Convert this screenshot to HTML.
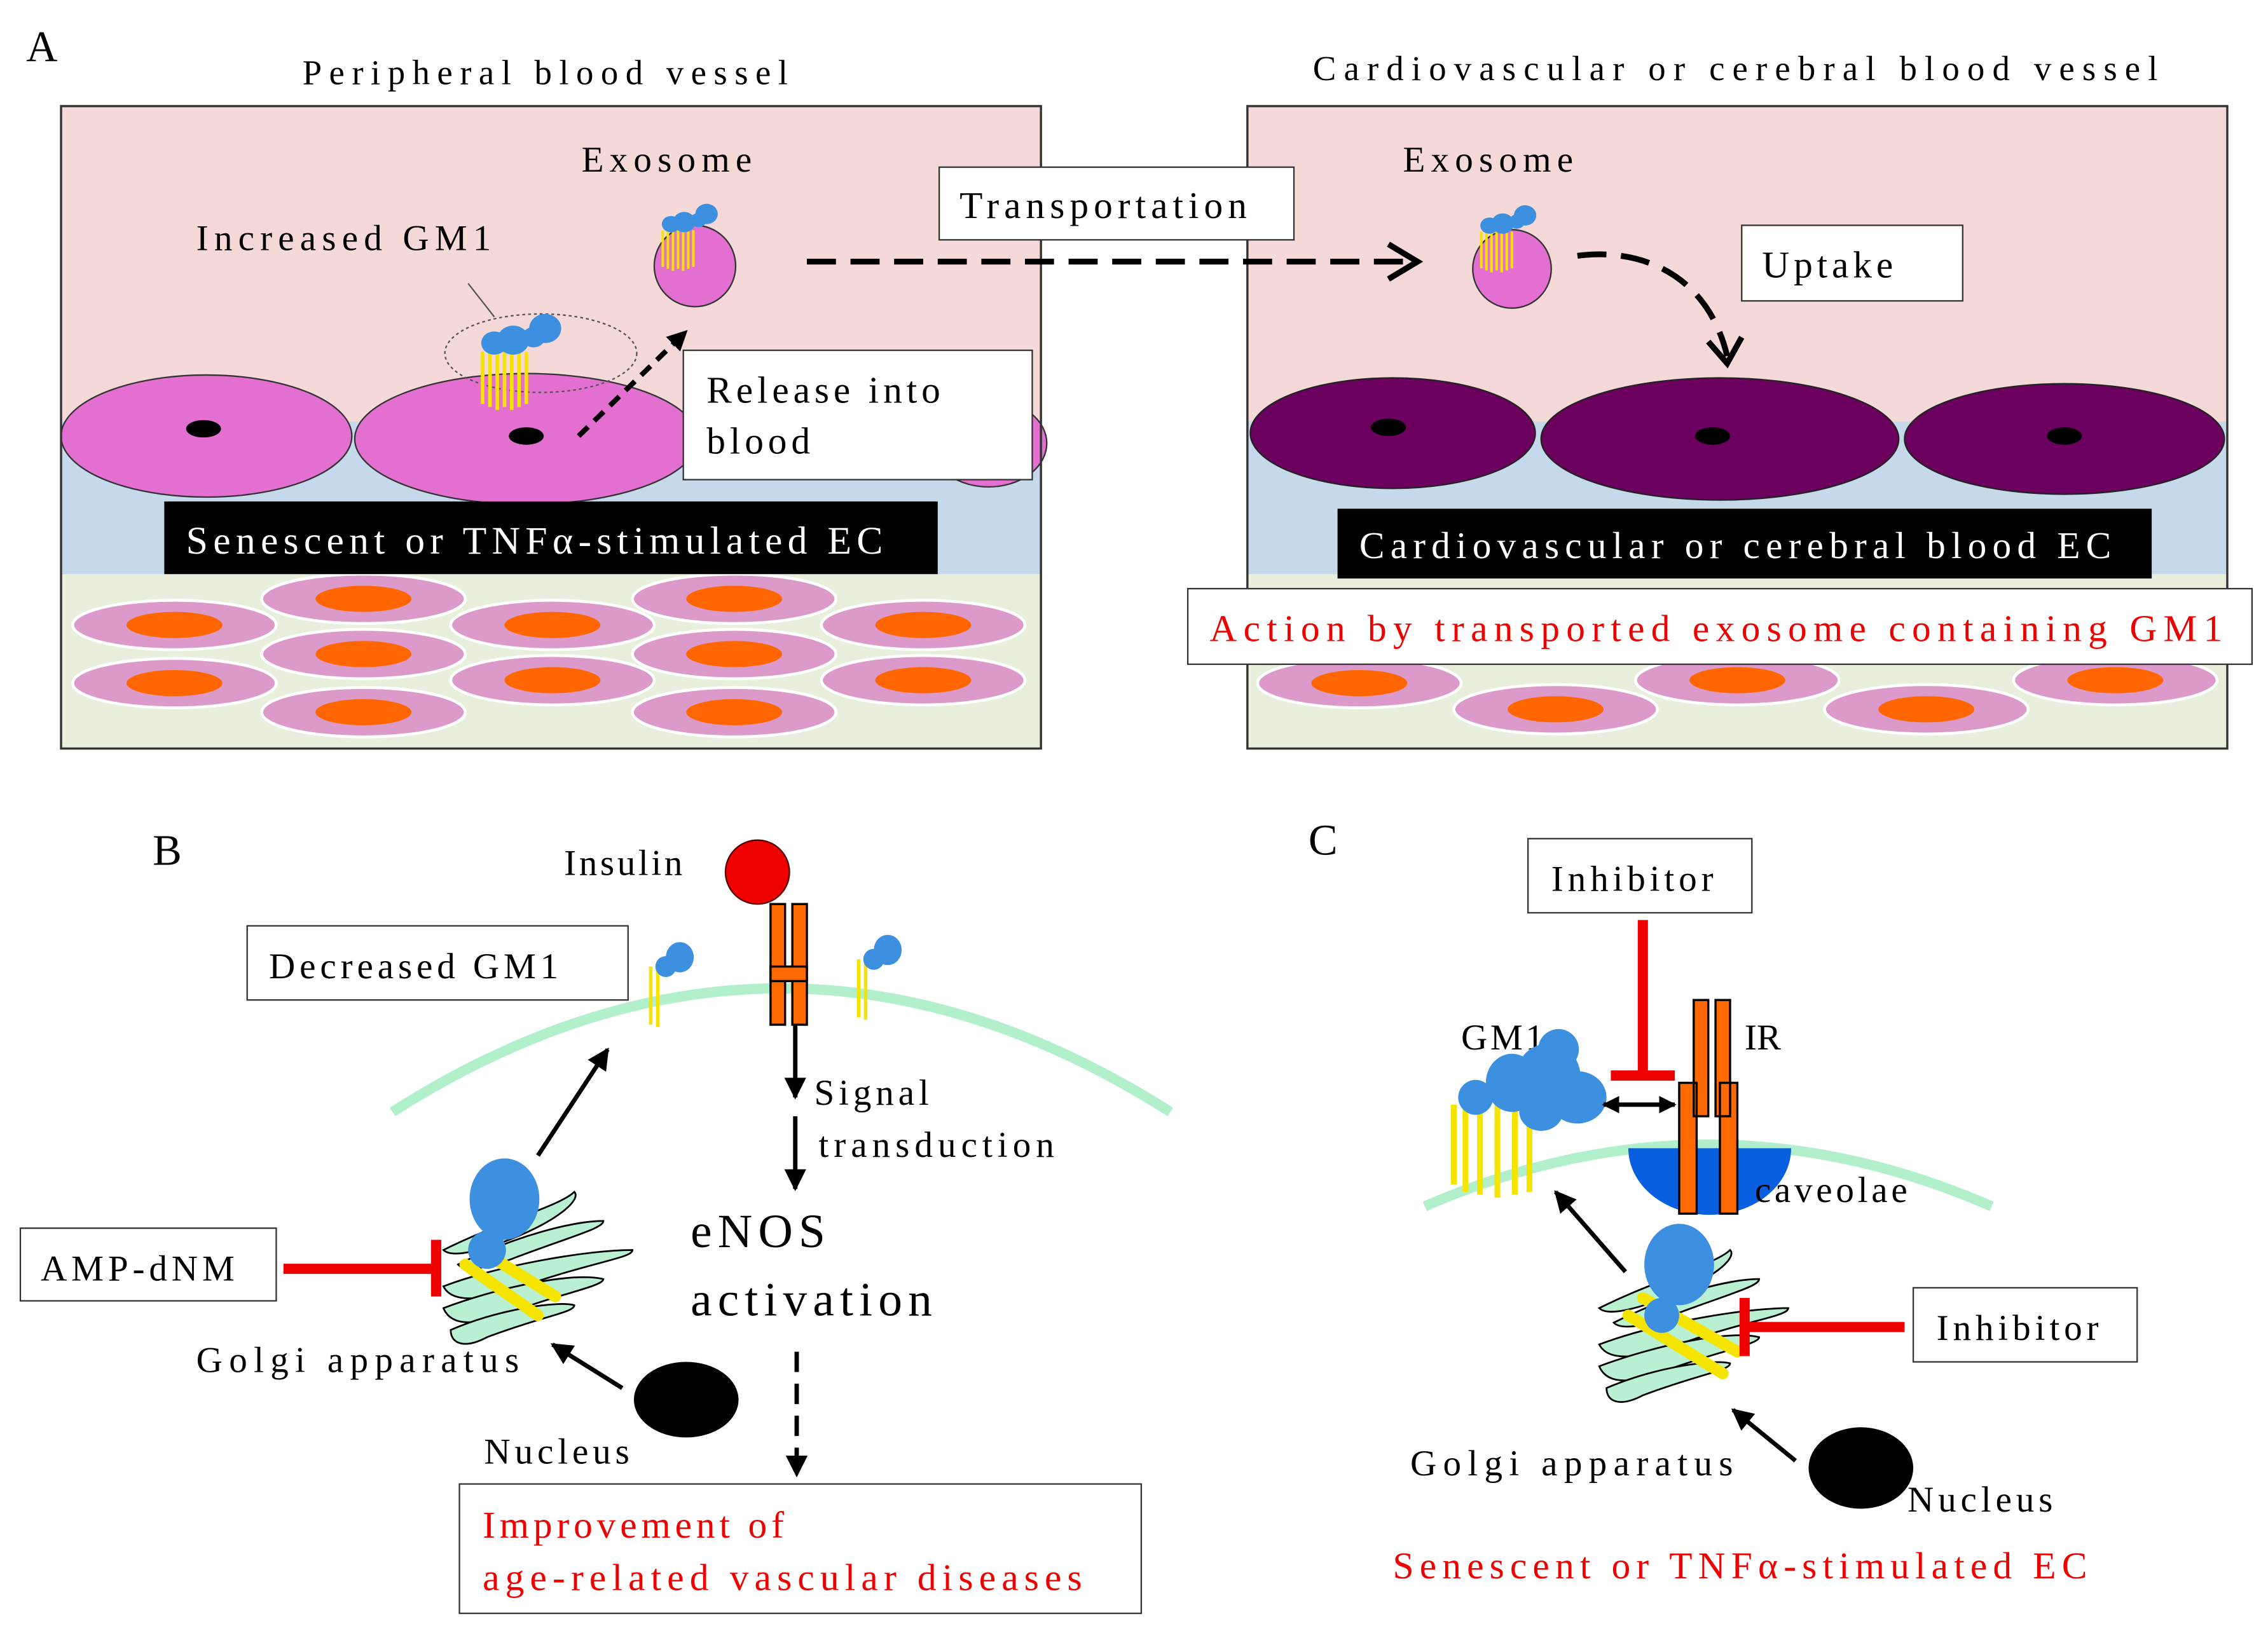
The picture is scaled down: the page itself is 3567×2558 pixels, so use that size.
<!DOCTYPE html>
<html><head><meta charset="utf-8"><style>
html,body{margin:0;padding:0;background:#fff;}
svg{display:block;}
text{font-family:"Liberation Serif","Noto Serif CJK SC",serif;fill:#000;}
</style></head><body>
<svg width="3567" height="2558" viewBox="0 0 1560 1118.7" xmlns="http://www.w3.org/2000/svg">
<defs>
<marker id="ah" viewBox="0 0 10 10" refX="9" refY="5" markerWidth="5" markerHeight="5" orient="auto"><path d="M0,0L10,5L0,10z" fill="#000"/></marker>
<marker id="ahb" viewBox="0 0 10 10" refX="9" refY="5" markerWidth="4" markerHeight="5" orient="auto"><path d="M0,0L10,5L0,10z" fill="#000"/></marker>
<marker id="ahs" viewBox="0 0 10 10" refX="9" refY="5" markerWidth="4" markerHeight="4" orient="auto-start-reverse"><path d="M0,0L10,5L0,10z" fill="#000"/></marker>
<g id="gm">
 <path d="M-8,0 V40 M-3,0 V42 M2,0 V40 M7,0 V42 M12,0 V40 M-13,2 V38 M17,2 V38" stroke="#f5e400" stroke-width="2.5"/>
 <ellipse cx="-5" cy="-4" rx="9" ry="8" fill="#3d8fe0"/><ellipse cx="8" cy="-6" rx="11" ry="10" fill="#3d8fe0"/>
 <ellipse cx="22" cy="-8" rx="8" ry="7" fill="#3d8fe0"/><ellipse cx="30" cy="-14" rx="11" ry="10" fill="#3d8fe0"/>
</g>
<g id="cell"><ellipse rx="70" ry="17" fill="#dc9acb" stroke="#fff" stroke-width="2"/><ellipse rx="33" ry="9" fill="#ff6600"/></g>
<g id="golgi" fill="#b9f0d2" stroke="#000" stroke-width="1.2">
 <path d="M-40,-10 C0,-30 40,-40 50,-50 C55,-45 40,-30 0,-15 C-20,-8 -35,-5 -40,-10z"/>
 <path d="M-30,0 C10,-20 50,-30 70,-30 C70,-25 50,-20 10,-5 C-10,3 -25,5 -30,0z"/>
 <path d="M-40,15 C0,0 60,-10 90,-10 C90,-4 60,-2 0,20 C-20,25 -35,25 -40,15z"/>
 <path d="M-40,30 C0,15 50,5 70,10 C70,15 40,20 0,35 C-20,42 -35,42 -40,30z"/>
 <path d="M-35,45 C0,30 40,25 50,28 C50,33 30,35 -10,50 C-25,58 -35,55 -35,45z"/>
</g>
</defs>

<!-- Panel A -->
<text x="18" y="42" font-size="30">A</text>
<text x="208" y="58" font-size="24" letter-spacing="5">Peripheral blood vessel</text>
<text x="903" y="55" font-size="24" letter-spacing="5.3">Cardiovascular or cerebral blood vessel</text>

<rect x="42" y="73" width="674" height="442" fill="#f5d9d9"/>
<rect x="42" y="290" width="674" height="105" fill="#c5d9ea"/>
<rect x="42" y="395" width="674" height="120" fill="#e8efdc"/>
<use href="#cell" x="120" y="430"/><use href="#cell" x="250" y="412"/><use href="#cell" x="380" y="430"/><use href="#cell" x="505" y="412"/><use href="#cell" x="635" y="430"/>
<use href="#cell" x="120" y="470"/><use href="#cell" x="250" y="450"/><use href="#cell" x="380" y="468"/><use href="#cell" x="505" y="450"/><use href="#cell" x="635" y="468"/>
<use href="#cell" x="250" y="490"/><use href="#cell" x="505" y="490"/>
<ellipse cx="680" cy="305" rx="40" ry="30" fill="#e36fd0" stroke="#333"/>
<ellipse cx="142" cy="300" rx="100" ry="42" fill="#e36fd0" stroke="#333"/>
<ellipse cx="362" cy="302" rx="118" ry="45" fill="#e36fd0" stroke="#333"/>
<ellipse cx="140" cy="295" rx="12" ry="6" fill="#000"/><ellipse cx="362" cy="300" rx="12" ry="6" fill="#000"/>
<rect x="113" y="345" width="532" height="50" fill="#000"/>
<text x="128" y="381" font-size="27" letter-spacing="3.6" style="fill:#fff">Senescent or TNFα-stimulated EC</text>
<rect x="42" y="73" width="674" height="442" fill="none" stroke="#333" stroke-width="1.5"/>

<ellipse cx="372" cy="243" rx="66" ry="27" fill="none" stroke="#555" stroke-dasharray="2,2"/>
<line x1="340" y1="218" x2="322" y2="195" stroke="#555"/>
<use href="#gm" x="345" y="240"/>
<text x="135" y="172" font-size="25" letter-spacing="4">Increased GM1</text>
<text x="400" y="118" font-size="25" letter-spacing="4">Exosome</text>
<circle cx="478" cy="183" r="28" fill="#e36fd0" stroke="#333"/>
<use href="#gm" transform="translate(465,157) scale(0.7)"/>
<line x1="398" y1="300" x2="472" y2="228" stroke="#000" stroke-width="3.5" stroke-dasharray="9,6" marker-end="url(#ahb)"/>
<rect x="470" y="241" width="240" height="89" fill="#fff" stroke="#333"/>
<text x="486" y="277" font-size="26" letter-spacing="3">Release into</text>
<text x="486" y="312" font-size="26" letter-spacing="3">blood</text>

<rect x="858" y="73" width="674" height="442" fill="#f5d9d9"/>
<rect x="858" y="290" width="674" height="105" fill="#c5d9ea"/>
<rect x="858" y="395" width="674" height="120" fill="#e8efdc"/>
<use href="#cell" x="935" y="470"/><use href="#cell" x="1070" y="488"/><use href="#cell" x="1195" y="468"/><use href="#cell" x="1325" y="488"/><use href="#cell" x="1455" y="468"/>
<ellipse cx="958" cy="298" rx="98" ry="38" fill="#6b005e" stroke="#222"/>
<ellipse cx="1183" cy="302" rx="123" ry="42" fill="#6b005e" stroke="#222"/>
<ellipse cx="1420" cy="302" rx="110" ry="38" fill="#6b005e" stroke="#222"/>
<ellipse cx="955" cy="294" rx="12" ry="6" fill="#000"/><ellipse cx="1178" cy="300" rx="12" ry="6" fill="#000"/><ellipse cx="1420" cy="300" rx="12" ry="6" fill="#000"/>
<rect x="920" y="350" width="560" height="48" fill="#000"/>
<text x="935" y="384" font-size="26" letter-spacing="4">Cardiovascular or cerebral blood EC</text>
<text x="935" y="384" font-size="26" letter-spacing="4" style="fill:#fff">Cardiovascular or cerebral blood EC</text>
<rect x="858" y="73" width="674" height="442" fill="none" stroke="#333" stroke-width="1.5"/>
<rect x="817" y="405" width="732" height="52" fill="#fff" stroke="#333"/>
<text x="832" y="441" font-size="26" letter-spacing="4.5" style="fill:#e00">Action by transported exosome containing GM1</text>

<text x="965" y="118" font-size="25" letter-spacing="4">Exosome</text>
<circle cx="1040" cy="185" r="27" fill="#e36fd0" stroke="#333"/>
<use href="#gm" transform="translate(1028,158) scale(0.7)"/>
<path d="M1085,176 C1130,170 1175,190 1188,245" fill="none" stroke="#000" stroke-width="4" stroke-dasharray="20,10"/>
<path d="M1175,235 L1188,250 L1198,232" fill="none" stroke="#000" stroke-width="4"/>
<rect x="1198" y="155" width="152" height="52" fill="#fff" stroke="#333"/>
<text x="1212" y="191" font-size="26" letter-spacing="3">Uptake</text>

<line x1="555" y1="180" x2="975" y2="180" stroke="#000" stroke-width="4" stroke-dasharray="20,10"/>
<path d="M955,168 L975,180 L955,192" fill="none" stroke="#000" stroke-width="4"/>
<rect x="646" y="115" width="244" height="50" fill="#fff" stroke="#333"/>
<text x="660" y="150" font-size="26" letter-spacing="3.5">Transportation</text>

<!-- Panel B -->
<text x="105" y="595" font-size="30">B</text>
<path d="M270,765 Q537,595 805,765" fill="none" stroke="#b2f0cc" stroke-width="7"/>
<text x="388" y="602" font-size="25" letter-spacing="2">Insulin</text>
<circle cx="521" cy="600" r="22" fill="#e00" stroke="#500"/>
<path d="M530,622 h10 v83 h-10z M545,622 h10 v83 h-10z" fill="#ff6a00" stroke="#000" stroke-width="1.5"/>
<rect x="530" y="665" width="25" height="10" fill="#ff6a00" stroke="#000" stroke-width="1.5"/>
<g transform="translate(450,665) scale(0.8)"><path d="M-3,0 V50 M3,0 V52" stroke="#f5e400" stroke-width="3"/><ellipse cx="10" cy="0" rx="9" ry="9" fill="#3d8fe0"/><ellipse cx="22" cy="-8" rx="12" ry="13" fill="#3d8fe0"/></g>
<g transform="translate(593,660) scale(0.8)"><path d="M-3,0 V50 M3,0 V52" stroke="#f5e400" stroke-width="3"/><ellipse cx="10" cy="0" rx="9" ry="9" fill="#3d8fe0"/><ellipse cx="22" cy="-8" rx="12" ry="13" fill="#3d8fe0"/></g>
<rect x="170" y="637" width="262" height="51" fill="#fff" stroke="#333"/>
<text x="185" y="673" font-size="25" letter-spacing="3">Decreased GM1</text>
<line x1="547" y1="705" x2="547" y2="755" stroke="#000" stroke-width="3" marker-end="url(#ah)"/>
<line x1="547" y1="768" x2="547" y2="818" stroke="#000" stroke-width="3" marker-end="url(#ah)"/>
<text x="560" y="760" font-size="25" letter-spacing="3">Signal</text>
<text x="563" y="796" font-size="25" letter-spacing="3.5">transduction</text>
<text x="475" y="858" font-size="33" letter-spacing="4">eNOS</text>
<text x="475" y="905" font-size="33" letter-spacing="4">activation</text>
<line x1="548" y1="930" x2="548" y2="1015" stroke="#000" stroke-width="3" stroke-dasharray="14,8" marker-end="url(#ah)"/>
<rect x="316" y="1021" width="469" height="89" fill="#fff" stroke="#333"/>
<text x="332" y="1058" font-size="26" letter-spacing="3" style="fill:#e00">Improvement of</text>
<text x="332" y="1094" font-size="26" letter-spacing="4" style="fill:#e00">age-related vascular diseases</text>

<use href="#golgi" transform="translate(345,870)"/>
<path d="M320,870 L370,905 M330,860 L382,892" stroke="#f5e400" stroke-width="8" stroke-linecap="round"/>
<ellipse cx="347" cy="825" rx="24" ry="28" fill="#3d8fe0"/><ellipse cx="335" cy="860" rx="13" ry="13" fill="#3d8fe0"/>
<line x1="370" y1="795" x2="418" y2="722" stroke="#000" stroke-width="3" marker-end="url(#ah)"/>
<rect x="14" y="845" width="176" height="50" fill="#fff" stroke="#333"/>
<text x="28" y="881" font-size="25" letter-spacing="3">AMP-dNM</text>
<line x1="195" y1="873" x2="300" y2="873" stroke="#e00" stroke-width="7"/>
<line x1="300" y1="853" x2="300" y2="892" stroke="#e00" stroke-width="7"/>
<text x="135" y="944" font-size="25" letter-spacing="4.5">Golgi apparatus</text>
<line x1="428" y1="955" x2="380" y2="925" stroke="#000" stroke-width="3" marker-end="url(#ah)"/>
<ellipse cx="472" cy="963" rx="36" ry="26" fill="#000"/>
<text x="333" y="1007" font-size="25" letter-spacing="3">Nucleus</text>

<!-- Panel C -->
<text x="900" y="588" font-size="30">C</text>
<path d="M980,830 Q1175,745 1370,830" fill="none" stroke="#b2f0cc" stroke-width="7"/>
<path d="M1120,790 A55,45 0 0 0 1232,790 Z" fill="#0a5fe0"/>
<rect x="1051" y="577" width="154" height="51" fill="#fff" stroke="#333"/>
<text x="1067" y="613" font-size="25" letter-spacing="3">Inhibitor</text>
<line x1="1130" y1="633" x2="1130" y2="740" stroke="#e00" stroke-width="7"/>
<line x1="1108" y1="740" x2="1152" y2="740" stroke="#e00" stroke-width="7"/>
<path d="M1155,745 h12 v90 h-12z M1183,745 h12 v90 h-12z M1165,688 h10 v80 h-10z M1180,688 h10 v80 h-10z" fill="#ff6a00" stroke="#000" stroke-width="1.5"/>
<text x="1005" y="722" font-size="25" letter-spacing="2">GM1</text>
<text x="1200" y="722" font-size="25">IR</text>
<path d="M1000,760 V815 M1008,755 V820 M1018,752 V822 M1030,755 V824 M1042,752 V822 M1052,755 V820" stroke="#f5e400" stroke-width="4"/>
<g fill="#3d8fe0"><ellipse cx="1015" cy="755" rx="12" ry="12"/><ellipse cx="1040" cy="745" rx="18" ry="20"/><ellipse cx="1065" cy="740" rx="22" ry="22"/><ellipse cx="1085" cy="755" rx="20" ry="18"/><ellipse cx="1060" cy="765" rx="15" ry="13"/><ellipse cx="1072" cy="722" rx="14" ry="14"/></g>
<line x1="1103" y1="760" x2="1152" y2="760" stroke="#000" stroke-width="3" marker-start="url(#ahs)" marker-end="url(#ahs)"/>
<text x="1207" y="827" font-size="25" letter-spacing="2.5">caveolae</text>
<use href="#golgi" transform="translate(1140,910)"/>
<path d="M1120,905 L1185,945 M1130,893 L1195,930" stroke="#f5e400" stroke-width="8" stroke-linecap="round"/>
<ellipse cx="1155" cy="870" rx="24" ry="28" fill="#3d8fe0"/><ellipse cx="1143" cy="905" rx="12" ry="12" fill="#3d8fe0"/>
<line x1="1118" y1="875" x2="1070" y2="820" stroke="#000" stroke-width="3" marker-end="url(#ah)"/>
<rect x="1316" y="886" width="154" height="51" fill="#fff" stroke="#333"/>
<text x="1332" y="922" font-size="25" letter-spacing="3">Inhibitor</text>
<line x1="1200" y1="913" x2="1310" y2="913" stroke="#e00" stroke-width="7"/>
<line x1="1200" y1="893" x2="1200" y2="933" stroke="#e00" stroke-width="7"/>
<text x="970" y="1015" font-size="25" letter-spacing="4.5">Golgi apparatus</text>
<line x1="1235" y1="1005" x2="1192" y2="970" stroke="#000" stroke-width="3" marker-end="url(#ah)"/>
<ellipse cx="1280" cy="1010" rx="36" ry="28" fill="#000"/>
<text x="1312" y="1040" font-size="25" letter-spacing="3">Nucleus</text>
<text x="958" y="1086" font-size="26" letter-spacing="4" style="fill:#e00">Senescent or TNFα-stimulated EC</text>
</svg>
</body></html>
